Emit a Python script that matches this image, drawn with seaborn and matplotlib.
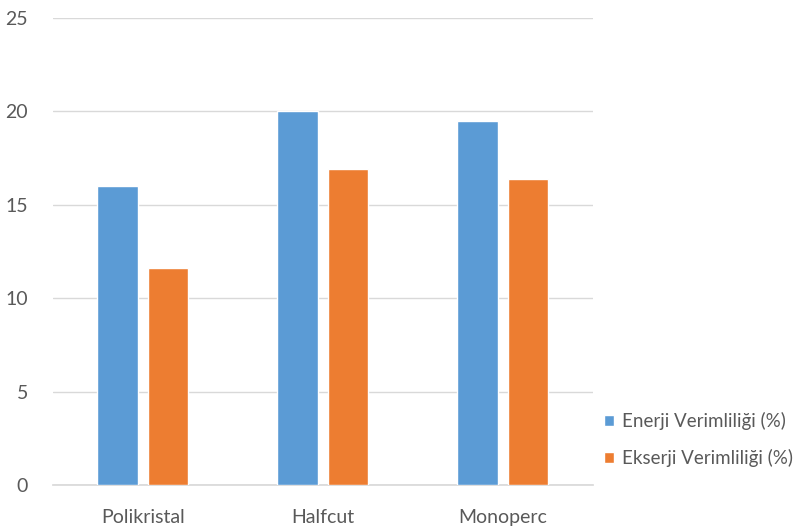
import matplotlib
matplotlib.use("Agg")
import matplotlib.pyplot as plt
import pandas as pd
import seaborn as sns

# chart data
categories = ["Polikristal", "Halfcut", "Monoperc"]
series_names = ["Enerji Verimliliği (%)", "Ekserji Verimliliği (%)"]
enerji = [16.0, 20.0, 19.5]
ekserji = [11.6, 16.9, 16.35]
colors = ["#5b9bd5", "#ed7d31"]

df = pd.DataFrame({
    "kategori": categories * 2,
    "seri": [series_names[0]] * 3 + [series_names[1]] * 3,
    "deger": enerji + ekserji,
})

sns.set_theme(style="white")
plt.rcParams["font.family"] = ["Lato", "DejaVu Sans"]

fig = plt.figure(figsize=(8, 5.31), dpi=100)
ax = fig.add_axes([0.066, 0.0866, 0.675, 0.88])

sns.barplot(data=df, x="kategori", y="deger", hue="seri", palette=colors,
            width=0.56, gap=0.196, saturation=1, ax=ax, legend=True, zorder=3)

ax.set_ylim(0, 25)
ax.set_xlim(-0.5, 2.5)
ax.set_yticks(range(0, 26, 5))
ax.yaxis.grid(True, color="#d9d9d9", linewidth=1, zorder=0)
ax.set_axisbelow(True)
for s in ["top", "right", "left"]:
    ax.spines[s].set_visible(False)
ax.spines["bottom"].set_color("#d9d9d9")
ax.set_xlabel("")
ax.set_ylabel("")
ax.tick_params(axis="both", length=0, labelsize=14, labelcolor="#595959")
ax.tick_params(axis="x", pad=17)
ax.tick_params(axis="y", pad=18)

handles, labels = ax.get_legend_handles_labels()
ax.legend(handles, labels, loc="center left", bbox_to_anchor=(0.755, 0.172),
          bbox_transform=fig.transFigure, frameon=False, fontsize=13.5,
          borderpad=0, borderaxespad=0,
          handlelength=0.55, handleheight=0.55, handletextpad=0.4,
          labelspacing=1.0, labelcolor="#595959")

fig.savefig("out.png", dpi=100)
